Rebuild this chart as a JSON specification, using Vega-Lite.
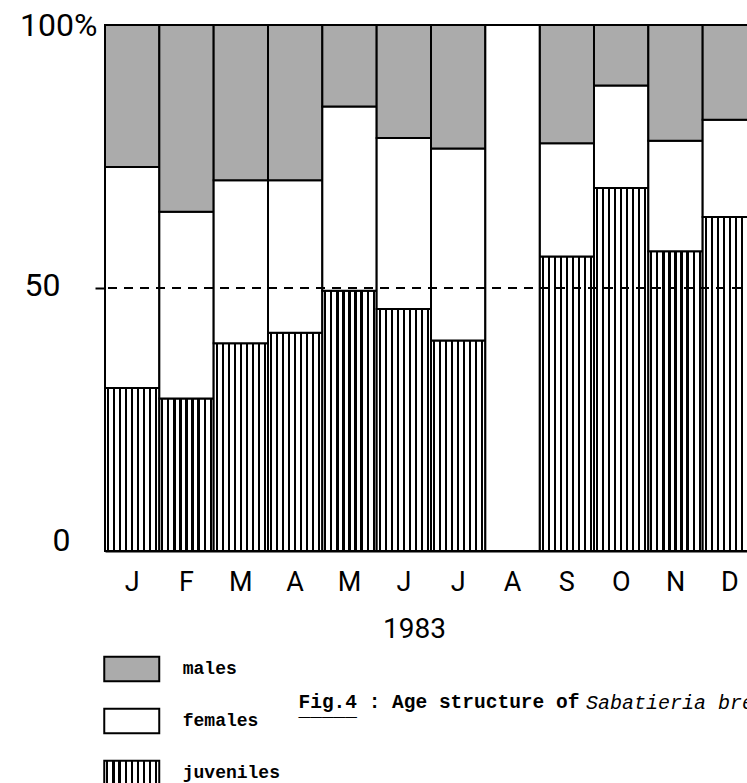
{
  "$schema": "https://vega.github.io/schema/vega-lite/v6.json",
  "autosize": "none",
  "width": 652,
  "height": 526,
  "padding": {"left": 105, "top": 25, "right": 0, "bottom": 232},
  "background": "white",
  "config": {"view": {"stroke": null}, "font": "Roboto"},
  "title": {
    "text": "Sabatieria bre",
    "orient": "top",
    "anchor": "start",
    "frame": "group",
    "font": "Liberation Mono",
    "fontStyle": "italic",
    "fontWeight": "normal",
    "fontSize": 20,
    "color": "black",
    "baseline": "alphabetic",
    "offset": 0,
    "dx": 481,
    "dy": 720
  },
  "data": {
    "values": [
      {"month": "Jan", "group": "juveniles", "pct": 31, "rank": 1},
      {"month": "Jan", "group": "females", "pct": 42, "rank": 2},
      {"month": "Jan", "group": "males", "pct": 27, "rank": 3},
      {"month": "Feb", "group": "juveniles", "pct": 29, "rank": 1},
      {"month": "Feb", "group": "females", "pct": 35.5, "rank": 2},
      {"month": "Feb", "group": "males", "pct": 35.5, "rank": 3},
      {"month": "Mar", "group": "juveniles", "pct": 39.5, "rank": 1},
      {"month": "Mar", "group": "females", "pct": 31, "rank": 2},
      {"month": "Mar", "group": "males", "pct": 29.5, "rank": 3},
      {"month": "Apr", "group": "juveniles", "pct": 41.5, "rank": 1},
      {"month": "Apr", "group": "females", "pct": 29, "rank": 2},
      {"month": "Apr", "group": "males", "pct": 29.5, "rank": 3},
      {"month": "May", "group": "juveniles", "pct": 49.5, "rank": 1},
      {"month": "May", "group": "females", "pct": 35, "rank": 2},
      {"month": "May", "group": "males", "pct": 15.5, "rank": 3},
      {"month": "Jun", "group": "juveniles", "pct": 46, "rank": 1},
      {"month": "Jun", "group": "females", "pct": 32.5, "rank": 2},
      {"month": "Jun", "group": "males", "pct": 21.5, "rank": 3},
      {"month": "Jul", "group": "juveniles", "pct": 40, "rank": 1},
      {"month": "Jul", "group": "females", "pct": 36.5, "rank": 2},
      {"month": "Jul", "group": "males", "pct": 23.5, "rank": 3},
      {"month": "Aug", "group": "no data", "pct": 100, "rank": 1},
      {"month": "Sep", "group": "juveniles", "pct": 56, "rank": 1},
      {"month": "Sep", "group": "females", "pct": 21.5, "rank": 2},
      {"month": "Sep", "group": "males", "pct": 22.5, "rank": 3},
      {"month": "Oct", "group": "juveniles", "pct": 69, "rank": 1},
      {"month": "Oct", "group": "females", "pct": 19.5, "rank": 2},
      {"month": "Oct", "group": "males", "pct": 11.5, "rank": 3},
      {"month": "Nov", "group": "juveniles", "pct": 57, "rank": 1},
      {"month": "Nov", "group": "females", "pct": 21, "rank": 2},
      {"month": "Nov", "group": "males", "pct": 22, "rank": 3},
      {"month": "Dec", "group": "juveniles", "pct": 63.5, "rank": 1},
      {"month": "Dec", "group": "females", "pct": 18.5, "rank": 2},
      {"month": "Dec", "group": "males", "pct": 18, "rank": 3}
    ]
  },
  "layer": [
    {
      "transform": [{"filter": "datum.group != 'no data'"}],
      "mark": {"type": "bar", "stroke": "black", "strokeWidth": 2},
      "encoding": {
        "x": {
          "field": "month",
          "type": "nominal",
          "sort": ["Jan", "Feb", "Mar", "Apr", "May", "Jun", "Jul", "Aug", "Sep", "Oct", "Nov", "Dec"],
          "scale": {"domain": ["Jan", "Feb", "Mar", "Apr", "May", "Jun", "Jul", "Aug", "Sep", "Oct", "Nov", "Dec"], "paddingInner": 0, "paddingOuter": 0},
          "axis": {
            "title": "1983",
            "labelExpr": "substring(datum.label, 0, 1)",
            "labelAngle": 0,
            "labelFont": "Roboto",
            "labelFontSize": 27,
            "labelColor": "black",
            "labelBaseline": "alphabetic",
            "labelPadding": 39,
            "ticks": false,
            "tickSize": 0,
            "domainColor": "black",
            "domainWidth": 2,
            "grid": false,
            "titleFont": "Roboto",
            "titleFontSize": 28,
            "titleFontWeight": "normal",
            "titleColor": "black",
            "titleAlign": "center",
            "titleBaseline": "alphabetic",
            "titleX": 309,
            "titleY": 86
          }
        },
        "y": {
          "field": "pct",
          "type": "quantitative",
          "stack": "zero",
          "scale": {"domain": [0, 100], "nice": false},
          "axis": {
            "values": [0, 50, 100],
            "labelExpr": "datum.value == 100 ? '100%' : datum.label",
            "labelFont": "Roboto",
            "labelFontSize": 32,
            "labelColor": "black",
            "labelAlign": "right",
            "labelBaseline": "middle",
            "labelOverlap": false,
            "labelFlush": false,
            "labelPadding": {"condition": [{"test": "datum.value == 100", "value": -2}, {"test": "datum.value == 50", "value": 35}], "value": 25},
            "labelOffset": {"condition": [{"test": "datum.value == 0", "value": -11}, {"test": "datum.value == 50", "value": -3}], "value": 0},
            "ticks": true,
            "tickSize": 10,
            "tickWidth": 2,
            "tickColor": "black",
            "tickOpacity": {"condition": {"test": "datum.value == 50", "value": 1}, "value": 0},
            "domainColor": "black",
            "domainWidth": 2,
            "grid": false,
            "title": ["Fig.4 : Age structure of", "_____"],
            "titleAngle": 0,
            "titleAlign": "left",
            "titleBaseline": "alphabetic",
            "titleX": 193,
            "titleY": 682,
            "titleFont": "Liberation Mono",
            "titleFontSize": 19.5,
            "titleFontWeight": "bold",
            "titleColor": "black",
            "titleLineHeight": 8
          }
        },
        "fill": {
          "field": "group",
          "type": "nominal",
          "sort": ["males", "females", "juveniles"],
          "scale": {
            "domain": ["males", "females", "juveniles"],
            "range": [
              "#ababab",
              "#ffffff",
              {"expr": "{gradient: 'linear', x1: 0, y1: 0, x2: 1, y2: 0, stops: [{offset: 0, color: '#fff'}, {offset: 0.036, color: '#fff'}, {offset: 0.036, color: '#000'}, {offset: 0.076, color: '#000'}, {offset: 0.076, color: '#fff'}, {offset: 0.147, color: '#fff'}, {offset: 0.147, color: '#000'}, {offset: 0.187, color: '#000'}, {offset: 0.187, color: '#fff'}, {offset: 0.258, color: '#fff'}, {offset: 0.258, color: '#000'}, {offset: 0.298, color: '#000'}, {offset: 0.298, color: '#fff'}, {offset: 0.369, color: '#fff'}, {offset: 0.369, color: '#000'}, {offset: 0.409, color: '#000'}, {offset: 0.409, color: '#fff'}, {offset: 0.48, color: '#fff'}, {offset: 0.48, color: '#000'}, {offset: 0.52, color: '#000'}, {offset: 0.52, color: '#fff'}, {offset: 0.591, color: '#fff'}, {offset: 0.591, color: '#000'}, {offset: 0.631, color: '#000'}, {offset: 0.631, color: '#fff'}, {offset: 0.702, color: '#fff'}, {offset: 0.702, color: '#000'}, {offset: 0.742, color: '#000'}, {offset: 0.742, color: '#fff'}, {offset: 0.813, color: '#fff'}, {offset: 0.813, color: '#000'}, {offset: 0.853, color: '#000'}, {offset: 0.853, color: '#fff'}, {offset: 0.924, color: '#fff'}, {offset: 0.924, color: '#000'}, {offset: 0.964, color: '#000'}, {offset: 0.964, color: '#fff'}, {offset: 1, color: '#fff'}]}"}
            ]
          },
          "legend": {
            "orient": "none",
            "legendX": 11.75,
            "legendY": 629,
            "title": null,
            "direction": "vertical",
            "symbolType": "M-2,-0.9H2V0.9H-2Z",
            "symbolSize": 756,
            "symbolStrokeColor": "black",
            "symbolStrokeWidth": 2,
            "symbolOpacity": 1,
            "labelFont": "Liberation Mono",
            "labelFontWeight": "bold",
            "labelFontSize": 18,
            "labelColor": "black",
            "labelBaseline": "middle",
            "labelOffset": 36,
            "rowPadding": 18,
            "padding": 0
          }
        },
        "order": {"field": "rank", "type": "quantitative"}
      }
    },
    {
      "transform": [{"filter": "datum.group == 'no data'"}],
      "mark": {"type": "bar", "fill": "white", "stroke": "black", "strokeWidth": 2},
      "encoding": {
        "x": {"field": "month", "type": "nominal", "sort": ["Jan", "Feb", "Mar", "Apr", "May", "Jun", "Jul", "Aug", "Sep", "Oct", "Nov", "Dec"]},
        "y": {"field": "pct", "type": "quantitative"}
      }
    },
    {
      "data": {"values": [{}]},
      "mark": {"type": "rule", "color": "black", "strokeWidth": 2, "strokeDash": [9, 7]},
      "encoding": {"y": {"datum": 50}}
    }
  ]
}
